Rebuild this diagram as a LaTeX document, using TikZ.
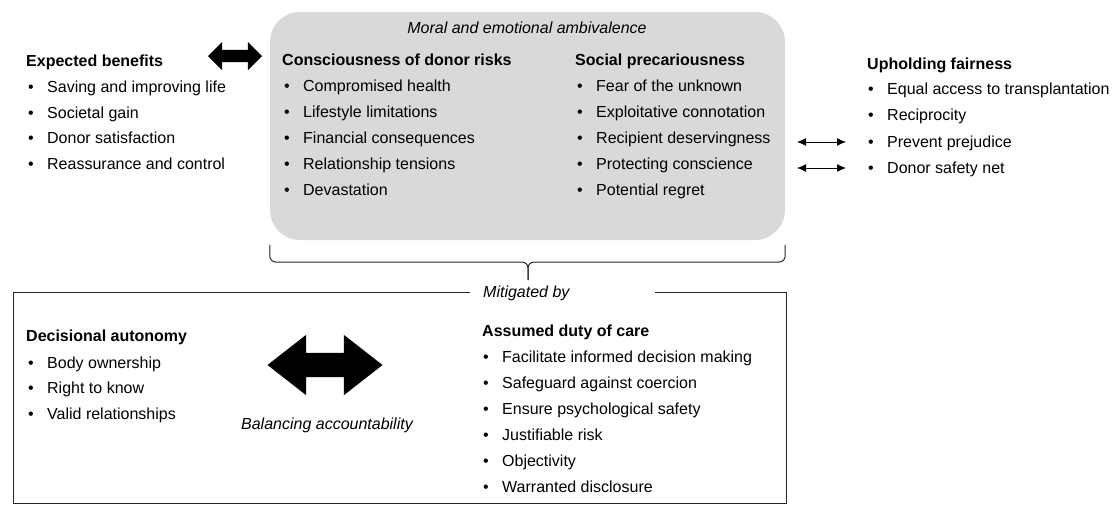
\documentclass[tikz,border=0pt]{standalone}
\usepackage{fontspec}
\setmainfont{Liberation Sans}
\usetikzlibrary{shapes.arrows,arrows.meta}
\tikzset{
 txt/.style={anchor=west,inner sep=0pt,text height=11.5pt,text depth=0pt,font=\fontsize{16}{19}\selectfont},
 head/.style={txt,font=\fontsize{16}{19}\selectfont\bfseries},
 note/.style={txt,font=\fontsize{16}{19}\selectfont\itshape},
 fatarrow/.style={double arrow,fill=black,draw=none,inner xsep=0pt,double arrow head indent=0pt},
 thinarrow/.style={{Latex[length=9pt,width=8pt]}-{Latex[length=9pt,width=8pt]},line width=1pt},
 frame/.style={line width=1pt,draw=black!85},
}
\newcommand{\listentry}[3]{%
 \node[txt] ({#1}) at ({#2}) {\makebox[19pt][l]{\textbullet}#3};%
}
\begin{document}
\begin{tikzpicture}[x=1pt,y=-1pt]
 \useasboundingbox (0,0) rectangle (1116,507);
 % ambivalence box
 \node[fill=gray!30,rounded corners=30pt,minimum width=515pt,minimum height=228pt] (amb) at (527.5,126) {};
 \node[note,anchor=center] (ambt) at (527,28) {Moral and emotional ambivalence};
 % expected benefits
 \node[head] (ben) at (26,61) {Expected benefits};
 \listentry{ben1}{28,87}{Saving and improving life}
 \listentry{ben2}{28,113}{Societal gain}
 \listentry{ben3}{28,138}{Donor satisfaction}
 \listentry{ben4}{28,164}{Reassurance and control}
 \node[fatarrow,minimum height=54pt,inner ysep=6pt,double arrow head extend=8pt] (link) at (235,56) {};
 % donor risks
 \node[head] (risk) at (282,60) {Consciousness of donor risks};
 \listentry{risk1}{284,86}{Compromised health}
 \listentry{risk2}{284,112}{Lifestyle limitations}
 \listentry{risk3}{284,138}{Financial consequences}
 \listentry{risk4}{284,164}{Relationship tensions}
 \listentry{risk5}{284,190}{Devastation}
 % social precariousness
 \node[head] (prec) at (575,60) {Social precariousness};
 \listentry{prec1}{577,86}{Fear of the unknown}
 \listentry{prec2}{577,112}{Exploitative connotation}
 \listentry{prec3}{577,138}{Recipient deservingness}
 \listentry{prec4}{577,164}{Protecting conscience}
 \listentry{prec5}{577,190}{Potential regret}
 % fairness
 \node[head] (fair) at (867,64) {Upholding fairness};
 \listentry{fair1}{868,89}{Equal access to transplantation}
 \listentry{fair2}{868,115}{Reciprocity}
 \listentry{fair3}{868,142}{Prevent prejudice}
 \listentry{fair4}{868,168}{Donor safety net}
 \draw[thinarrow] ([xshift=-22pt]fair3.west) -- ++(-49,0);
 \draw[thinarrow] ([xshift=-22pt]fair4.west) -- ++(-49,0);
 % brace
 \draw[frame,rounded corners=6pt] ([yshift=-5pt]amb.south west) |- (528,262) -- (528,280);
 \draw[frame,rounded corners=6pt] ([yshift=-5pt]amb.south east) |- (528,262) -- (528,280);
 % mitigation frame
 \node[note] (mitig) at (483,292) {Mitigated by};
 \draw[frame] ([xshift=-13pt]mitig.west) -| (13,503) -| (786,292) -- (655,292);
 % autonomy
 \node[head] (aut) at (26,336) {Decisional autonomy};
 \listentry{aut1}{28,363}{Body ownership}
 \listentry{aut2}{28,388}{Right to know}
 \listentry{aut3}{28,414}{Valid relationships}
 \node[fatarrow,minimum height=115pt,inner ysep=12pt,double arrow head extend=18pt,double arrow tip angle=76] (balance) at (325,365) {};
 \node[note,anchor=center] (bal) at (327,424) {Balancing accountability};
 % duty of care
 \node[head] (care) at (482,331) {Assumed duty of care};
 \listentry{care1}{483,357}{Facilitate informed decision making}
 \listentry{care2}{483,383}{Safeguard against coercion}
 \listentry{care3}{483,409}{Ensure psychological safety}
 \listentry{care4}{483,435}{Justifiable risk}
 \listentry{care5}{483,461}{Objectivity}
 \listentry{care6}{483,487}{Warranted disclosure}
\end{tikzpicture}
\end{document}
